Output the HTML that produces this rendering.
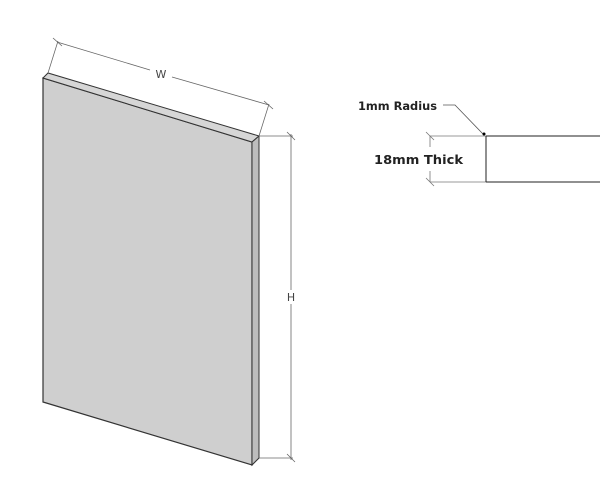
<!DOCTYPE html>
<html><head><style>
html,body{margin:0;padding:0;background:#fff;width:600px;height:500px;overflow:hidden}
text{font-family:"DejaVu Sans","Liberation Sans",sans-serif}
</style></head><body>
<svg width="600" height="500" viewBox="0 0 600 500">
<polygon points="43,78 252,142 252,465 43,402" fill="#cfcfcf" stroke="#333" stroke-width="1.2"/>
<polygon points="43,78 48,73 259,136 252,142" fill="#d6d6d6" stroke="#333" stroke-width="1"/>
<polygon points="252,142 259,136 259,458 252,465" fill="#bdbdbd" stroke="#333" stroke-width="1"/>
<g stroke="#666" stroke-width="0.8" fill="none">
<line x1="48" y1="73" x2="58" y2="41"/>
<line x1="259" y1="136" x2="269" y2="104"/>
<line x1="57" y1="42" x2="150" y2="70"/>
<line x1="172" y1="77" x2="269" y2="105"/>
<line x1="53" y1="38" x2="62" y2="46"/>
<line x1="264" y1="101" x2="273" y2="109"/>
<line x1="259" y1="136" x2="293" y2="136"/>
<line x1="259" y1="458" x2="293" y2="458"/>
<line x1="291" y1="134" x2="291" y2="290"/>
<line x1="291" y1="304" x2="291" y2="460"/>
<line x1="287" y1="132" x2="295" y2="140"/>
<line x1="287" y1="454" x2="295" y2="462"/>
</g>
<text x="161" y="78" font-size="11" fill="#444" text-anchor="middle">W</text>
<text x="291" y="301" font-size="11" fill="#444" text-anchor="middle">H</text>
<text x="358" y="110" font-size="11.5" font-weight="bold" fill="#222" textLength="79" lengthAdjust="spacingAndGlyphs">1mm Radius</text>
<polyline points="443,105 455,105 483,134" stroke="#555" stroke-width="0.8" fill="none"/>
<circle cx="484" cy="134" r="1.5" fill="#000"/>
<g stroke="#777" stroke-width="0.8">
<line x1="430" y1="136" x2="486" y2="136"/>
<line x1="430" y1="182" x2="486" y2="182"/>
<line x1="430" y1="136" x2="430" y2="147"/>
<line x1="430" y1="171" x2="430" y2="182"/>
<line x1="426" y1="132" x2="434" y2="140"/>
<line x1="426" y1="178" x2="434" y2="186"/>
</g>
<g stroke="#222" stroke-width="1">
<line x1="486" y1="136" x2="600" y2="136"/>
<line x1="486" y1="182" x2="600" y2="182"/>
<line x1="486" y1="136" x2="486" y2="182"/>
</g>
<text x="374" y="164" font-size="12.5" font-weight="bold" fill="#222" textLength="89" lengthAdjust="spacingAndGlyphs">18mm Thick</text>
</svg>
</body></html>
